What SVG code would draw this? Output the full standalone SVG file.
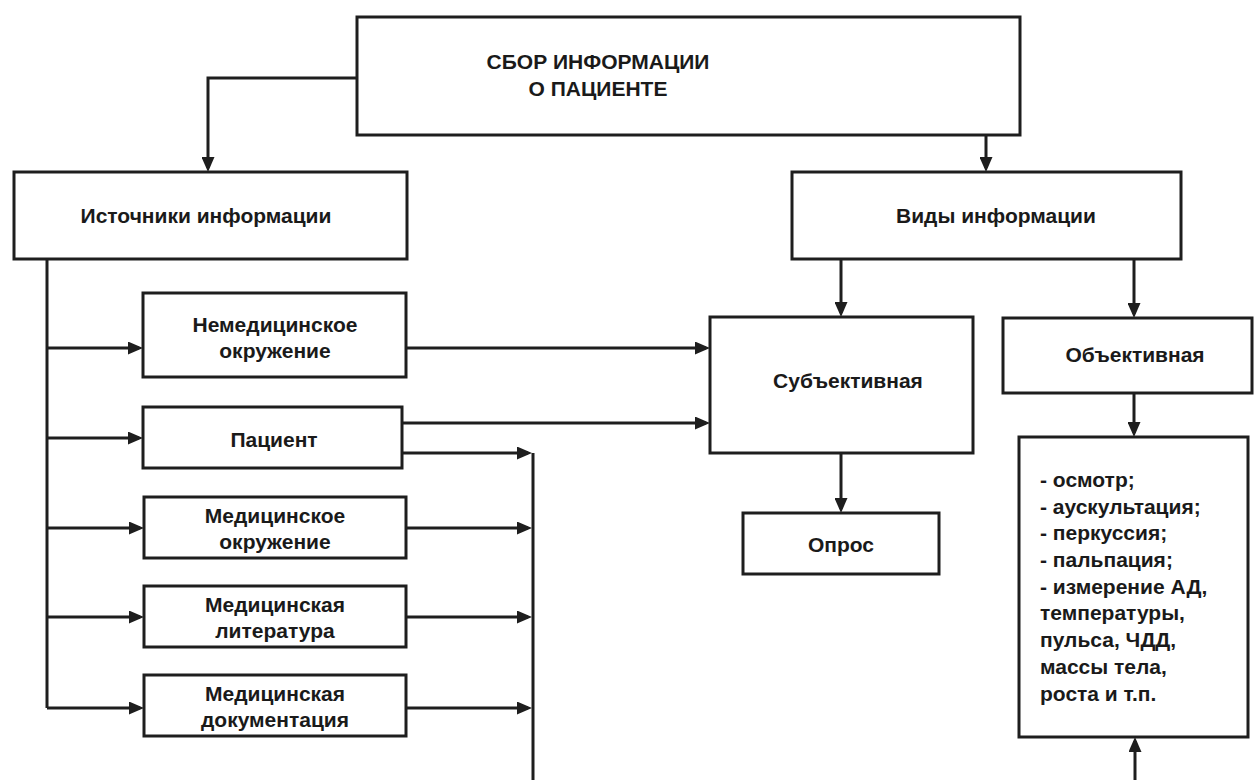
<svg xmlns="http://www.w3.org/2000/svg" width="1257" height="780" viewBox="0 0 1257 780">
<defs>
<marker id="ah" markerUnits="userSpaceOnUse" markerWidth="15" markerHeight="13" refX="11" refY="6.5" orient="auto">
<path d="M0,0 L15,6.5 L0,13 z" fill="#1e1e1e"/>
</marker>
<style>
.box{fill:#fff;stroke:#1e1e1e;stroke-width:3}
.t{font-family:"Liberation Sans",Arial,sans-serif;font-weight:bold;font-size:21px;fill:#1a1a1a;text-anchor:middle}
.l{font-family:"Liberation Sans",Arial,sans-serif;font-weight:bold;font-size:21px;fill:#1a1a1a}
.c{fill:none;stroke:#1e1e1e;stroke-width:3}
.a{marker-end:url(#ah)}
</style>
</defs>
<rect width="1257" height="780" fill="#fff"/>
<g id="connectors">
<path class="c a" d="M357,78 H208 V168"/>
<path class="c a" d="M1020,78 H986 V168"/>
<path class="c a" d="M841,259 V313"/>
<path class="c a" d="M1134,259 V314"/>
<path class="c a" d="M1134,393 V433"/>
<path class="c a" d="M841,453 V509"/>
<path class="c" d="M47,259 V708"/>
<path class="c a" d="M47,348 H139"/>
<path class="c a" d="M47,438 H139"/>
<path class="c a" d="M47,528 H140"/>
<path class="c a" d="M47,617 H140"/>
<path class="c a" d="M47,708 H140"/>
<path class="c a" d="M406,348 H706"/>
<path class="c a" d="M402,423 H706"/>
<path class="c a" d="M402,453 H528"/>
<path class="c a" d="M406,528 H528"/>
<path class="c a" d="M406,617 H528"/>
<path class="c a" d="M406,708 H528"/>
<path class="c" d="M533,453 V782"/>
<path class="c a" d="M1135,782 V741"/>
</g>
<g id="n-collect">
<rect class="box" x="357" y="17" width="663" height="118"/>
<text class="t" x="598" y="69">СБОР ИНФОРМАЦИИ</text>
<text class="t" x="598" y="96">О ПАЦИЕНТЕ</text>
</g>
<g id="n-sources">
<rect class="box" x="14" y="172" width="393" height="87"/>
<text class="t" x="206" y="223">Источники информации</text>
</g>
<g id="n-types">
<rect class="box" x="792" y="172" width="389" height="87"/>
<text class="t" x="996" y="223">Виды информации</text>
</g>
<g id="n-nonmed">
<rect class="box" x="143" y="293" width="263" height="84"/>
<text class="t" x="275" y="332">Немедицинское</text>
<text class="t" x="275" y="358">окружение</text>
</g>
<g id="n-patient">
<rect class="box" x="143" y="407" width="259" height="61"/>
<text class="t" x="274" y="447">Пациент</text>
</g>
<g id="n-medenv">
<rect class="box" x="144" y="497" width="262" height="61"/>
<text class="t" x="275" y="523">Медицинское</text>
<text class="t" x="275" y="549">окружение</text>
</g>
<g id="n-medlit">
<rect class="box" x="144" y="586" width="262" height="61"/>
<text class="t" x="275" y="612">Медицинская</text>
<text class="t" x="275" y="638">литература</text>
</g>
<g id="n-meddoc">
<rect class="box" x="144" y="675" width="262" height="61"/>
<text class="t" x="275" y="701">Медицинская</text>
<text class="t" x="275" y="727">документация</text>
</g>
<g id="n-subj">
<rect class="box" x="710" y="317" width="263" height="136"/>
<text class="t" x="848" y="388">Субъективная</text>
</g>
<g id="n-obj">
<rect class="box" x="1003" y="318" width="249" height="75"/>
<text class="t" x="1135" y="362">Объективная</text>
</g>
<g id="n-survey">
<rect class="box" x="743" y="513" width="196" height="61"/>
<text class="t" x="841" y="552">Опрос</text>
</g>
<g id="n-methods">
<rect class="box" x="1019" y="437" width="229" height="300"/>
<text class="l" x="1040" y="487">- осмотр;</text>
<text class="l" x="1040" y="514">- аускультация;</text>
<text class="l" x="1040" y="540">- перкуссия;</text>
<text class="l" x="1040" y="567">- пальпация;</text>
<text class="l" x="1040" y="594">- измерение АД,</text>
<text class="l" x="1040" y="620">температуры,</text>
<text class="l" x="1040" y="647">пульса, ЧДД,</text>
<text class="l" x="1040" y="674">массы тела,</text>
<text class="l" x="1040" y="701">роста и т.п.</text>
</g>
</svg>
